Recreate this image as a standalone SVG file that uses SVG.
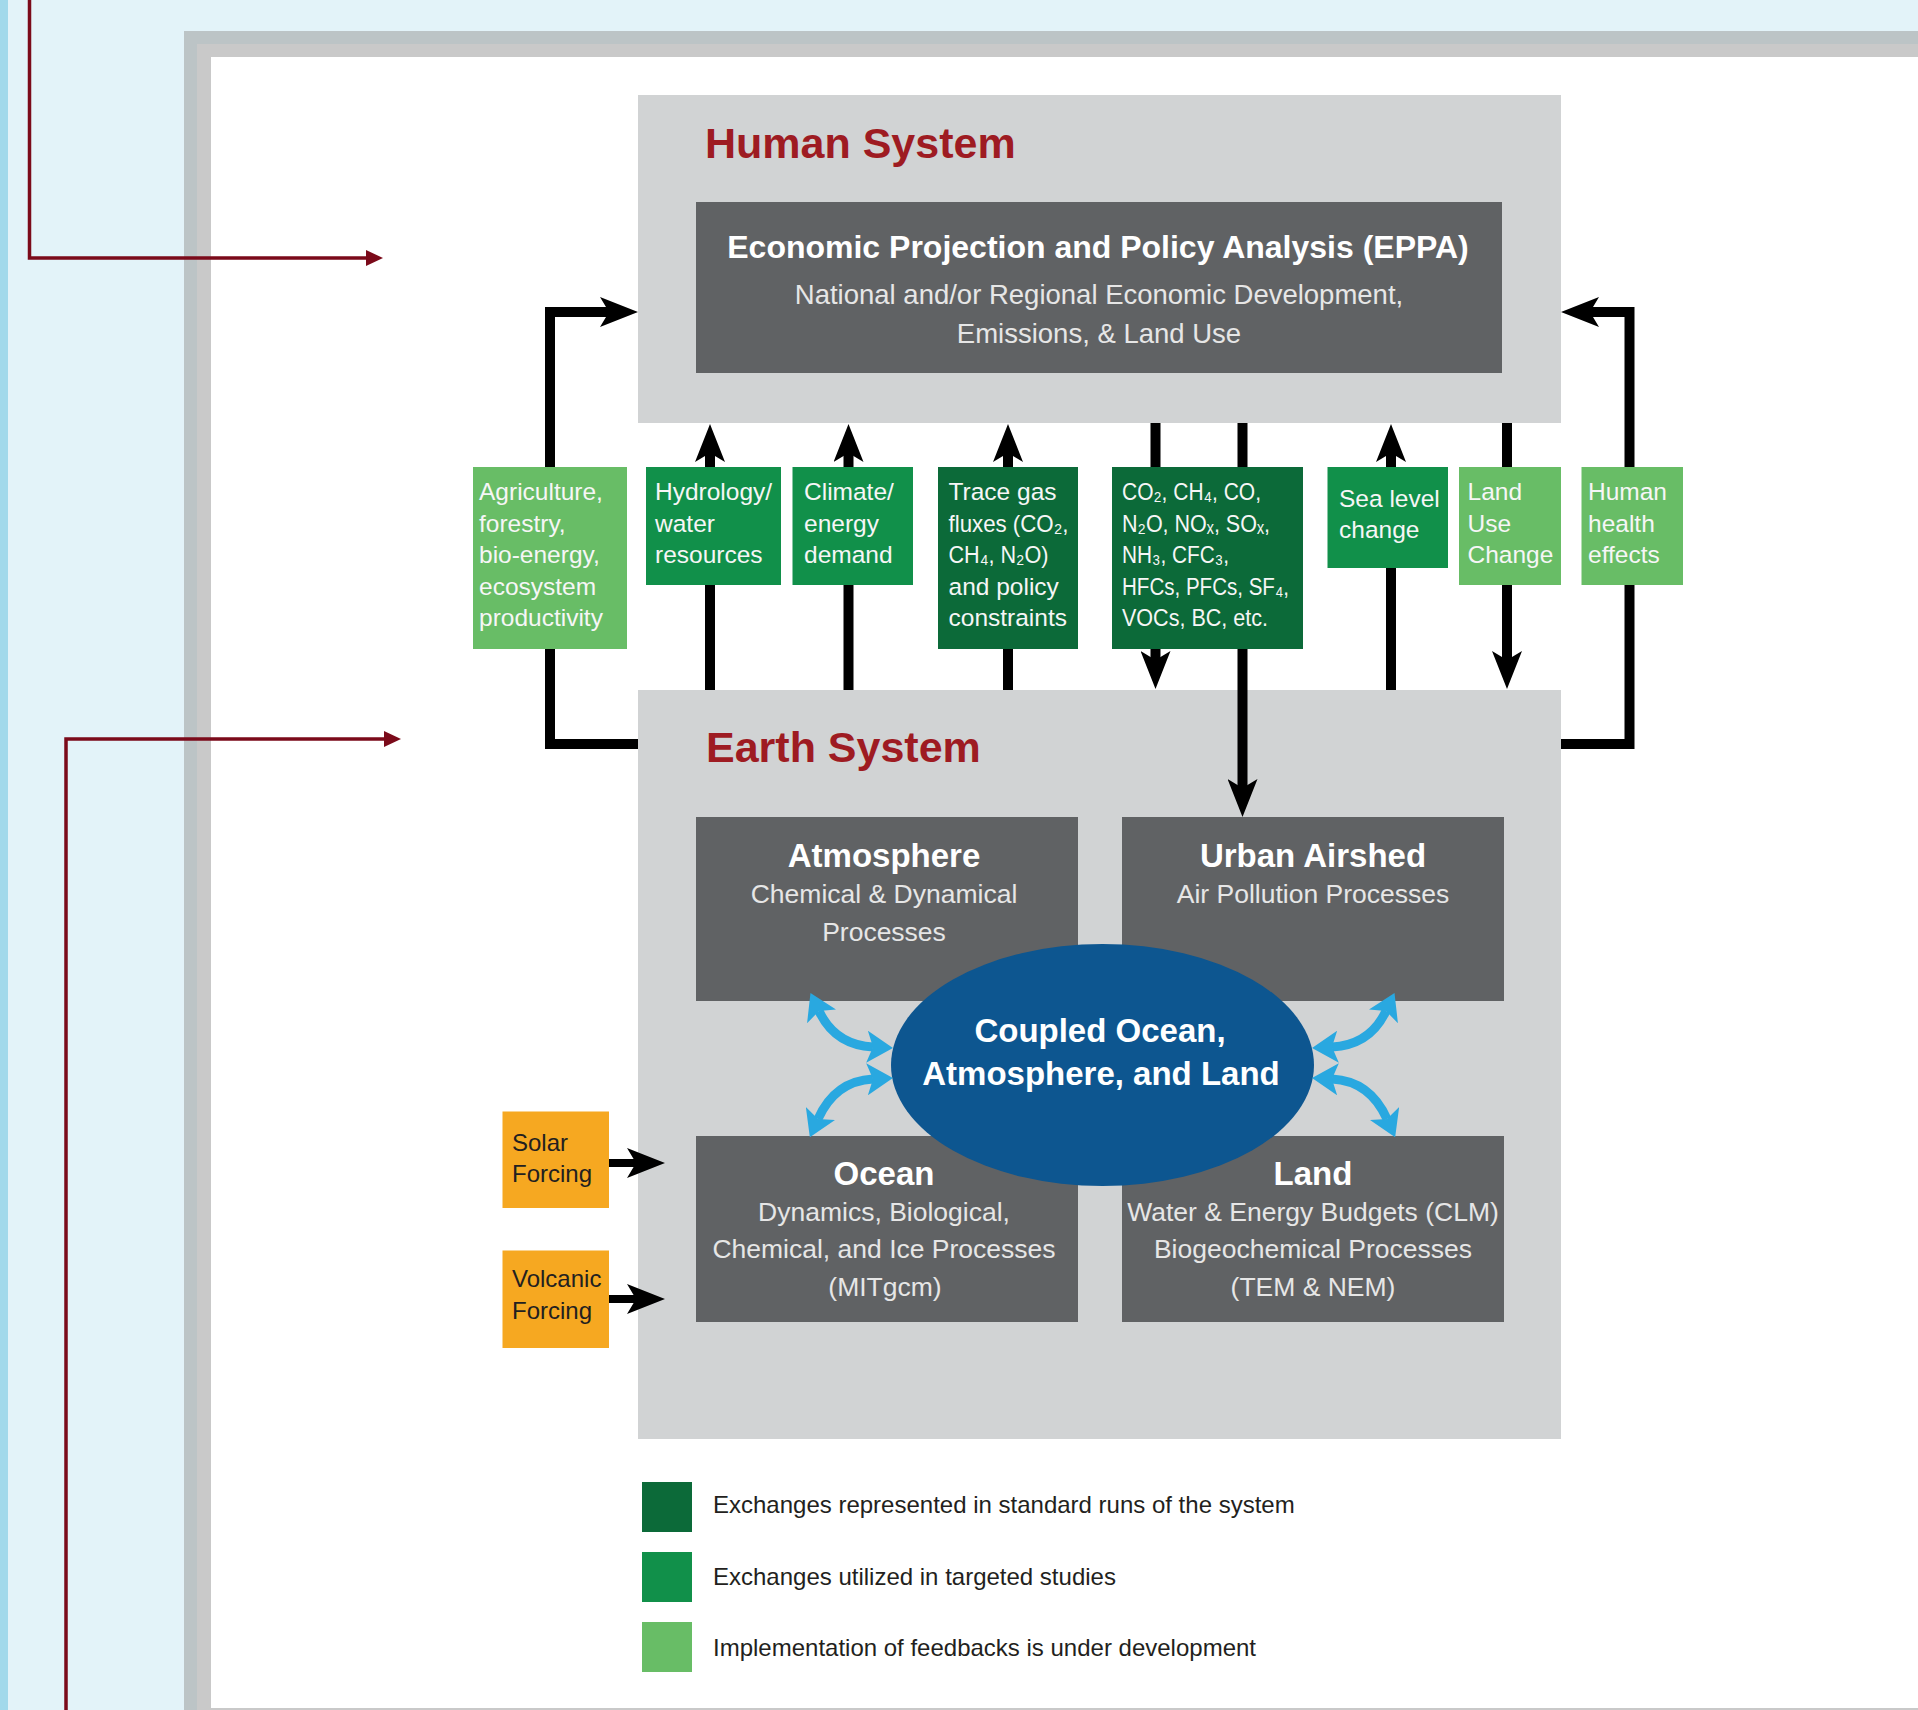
<svg xmlns="http://www.w3.org/2000/svg" width="1918" height="1710" viewBox="0 0 1918 1710">
  <defs>
    <style>
      text { font-family: "Liberation Sans", "DejaVu Sans", Arial, sans-serif; }
      .sys { fill: #d1d3d4; }
      .sysTitle { fill: #9e1b22; font-weight: bold; font-size: 43px; }
      .dark { fill: #606264; }
      .hTitle { fill: #ffffff; font-weight: bold; font-size: 33px; text-anchor: middle; }
      .hSub { fill: #e6e6e6; font-size: 26.5px; text-anchor: middle; }
      .g1 { fill: #0c6a39; }
      .g2 { fill: #11904a; }
      .g3 { fill: #68bd66; }
      .gt { fill: #f6f6f6; font-size: 24.5px; }
      .orange { fill: #f6a821; }
      .ft { fill: #231f20; font-size: 24px; }
      .lg { fill: #231f20; font-size: 24px; }
      .flow { fill: none; stroke: #000000; stroke-width: 10; marker-end: url(#head); }
      .feed { fill: none; stroke: #000000; stroke-width: 10; stroke-linejoin: miter; marker-end: url(#head); }
      .force { fill: none; stroke: #000000; stroke-width: 8; marker-end: url(#head); }
      .couple { fill: none; stroke: #29a8e0; stroke-width: 9; marker-start: url(#bhead); marker-end: url(#bhead); }
      .lead { fill: none; stroke: #7b0a1a; stroke-width: 3.5; marker-end: url(#rhead); }
    </style>
    <marker id="head" viewBox="0 0 38 30" refX="9" refY="15" markerWidth="38" markerHeight="30" markerUnits="userSpaceOnUse" orient="auto">
      <path d="M0,0 L38,15 L0,30 L9,15 Z" fill="#000000"/>
    </marker>
    <marker id="bhead" viewBox="0 0 26 32" refX="6" refY="16" markerWidth="26" markerHeight="32" markerUnits="userSpaceOnUse" orient="auto-start-reverse">
      <path d="M0,0 L26,16 L0,32 L6,16 Z" fill="#29a8e0"/>
    </marker>
    <marker id="rhead" viewBox="0 0 17 16" refX="2" refY="8" markerWidth="17" markerHeight="16" markerUnits="userSpaceOnUse" orient="auto">
      <path d="M0,0 L17,8 L0,16 Z" fill="#7b0a1a"/>
    </marker>
  </defs>

  <!-- page background and frame -->
  <rect x="0" y="0" width="1918" height="1710" fill="#e3f3f9"/>
  <rect x="0" y="0" width="8" height="1710" fill="#a2d9eb"/>
  <rect x="184" y="31" width="1734" height="1679" fill="#bcc4c6"/>
  <rect x="197" y="44" width="1721" height="1666" fill="#c9c9c9"/>
  <rect x="211" y="57" width="1707" height="1651" fill="#ffffff"/>

  <!-- Human System -->
  <g id="human-system">
    <rect class="sys" x="638" y="95" width="923" height="328"/>
    <text class="sysTitle" x="705" y="158">Human System</text>
    <g id="eppa">
      <rect class="dark" x="696" y="202" width="806" height="171"/>
      <text x="1098" y="258" fill="#ffffff" font-weight="bold" font-size="32" text-anchor="middle">Economic Projection and Policy Analysis (EPPA)</text>
      <text x="1099" y="304" fill="#e6e6e6" font-size="27.5" text-anchor="middle">National and/or Regional Economic Development,</text>
      <text x="1099" y="343" fill="#e6e6e6" font-size="27.5" text-anchor="middle">Emissions, &amp; Land Use</text>
    </g>
  </g>

  <!-- Earth System -->
  <g id="earth-system">
    <rect class="sys" x="638" y="690" width="923" height="749"/>
    <text class="sysTitle" x="706" y="762">Earth System</text>
    <g id="atmosphere">
      <rect class="dark" x="696" y="817" width="382" height="184"/>
      <text class="hTitle" x="884" y="867">Atmosphere</text>
      <text class="hSub" x="884" y="903">Chemical &amp; Dynamical</text>
      <text class="hSub" x="884" y="941">Processes</text>
    </g>
    <g id="urban-airshed">
      <rect class="dark" x="1122" y="817" width="382" height="184"/>
      <text class="hTitle" x="1313" y="867">Urban Airshed</text>
      <text class="hSub" x="1313" y="903">Air Pollution Processes</text>
    </g>
    <g id="ocean">
      <rect class="dark" x="696" y="1136" width="382" height="186"/>
    </g>
    <g id="land">
      <rect class="dark" x="1122" y="1136" width="382" height="186"/>
    </g>
    <g id="coupled">
      <ellipse cx="1102.5" cy="1065" rx="211.5" ry="121" fill="#0d5690"/>
      <text class="hTitle" x="1100" y="1042">Coupled Ocean,</text>
      <text class="hTitle" x="1101" y="1085">Atmosphere, and Land</text>
    </g>
    <g id="ocean-text">
      <text class="hTitle" x="884" y="1185">Ocean</text>
      <text class="hSub" x="884" y="1221">Dynamics, Biological,</text>
      <text class="hSub" x="884" y="1258">Chemical, and Ice Processes</text>
      <text class="hSub" x="885" y="1296">(MITgcm)</text>
    </g>
    <g id="land-text">
      <text class="hTitle" x="1313" y="1185">Land</text>
      <text class="hSub" x="1313" y="1221">Water &amp; Energy Budgets (CLM)</text>
      <text class="hSub" x="1313" y="1258">Biogeochemical Processes</text>
      <text class="hSub" x="1313" y="1296">(TEM &amp; NEM)</text>
    </g>
  </g>

  <!-- connectors -->
  <g id="connectors">
    <path class="feed" d="M638,744 H550 V312 H609"/>
    <path class="feed" d="M1561,744 H1629.5 V312 H1590"/>
    <path class="flow" d="M710,690 V453"/>
    <path class="flow" d="M848.5,690 V453"/>
    <path class="flow" d="M1008,690 V453"/>
    <path class="flow" d="M1155.5,423 V660"/>
    <path class="flow" d="M1242.5,423 V788"/>
    <path class="flow" d="M1391,690 V453"/>
    <path class="flow" d="M1507,423 V660"/>
    <path class="force" d="M609,1163 H636"/>
    <path class="force" d="M609,1299 H636"/>
    <path class="couple" d="M819,1011 Q835,1045 873,1047"/>
    <path class="couple" d="M873,1079 Q835,1081 818,1119"/>
    <path class="couple" d="M1386,1011 Q1370,1045 1332,1047"/>
    <path class="couple" d="M1332,1079 Q1370,1081 1387,1119"/>
    <path class="lead" d="M29.5,0 V258 H368"/>
    <path class="lead" d="M66,1710 V739 H386"/>
  </g>

  <!-- exchange boxes -->
  <g id="agriculture">
    <rect class="g3" x="473" y="467" width="154" height="182"/>
    <text class="gt" x="479" y="500">Agriculture,</text>
    <text class="gt" x="479" y="531.5">forestry,</text>
    <text class="gt" x="479" y="563">bio-energy,</text>
    <text class="gt" x="479" y="594.5">ecosystem</text>
    <text class="gt" x="479" y="626">productivity</text>
  </g>
  <g id="hydrology">
    <rect class="g2" x="646" y="467" width="135" height="118"/>
    <text class="gt" x="655" y="500">Hydrology/</text>
    <text class="gt" x="655" y="531.5">water</text>
    <text class="gt" x="655" y="563">resources</text>
  </g>
  <g id="climate">
    <rect class="g2" x="792.5" y="467" width="120.5" height="118"/>
    <text class="gt" x="804" y="500">Climate/</text>
    <text class="gt" x="804" y="531.5">energy</text>
    <text class="gt" x="804" y="563">demand</text>
  </g>
  <g id="trace-gas">
    <rect class="g1" x="938" y="467" width="140" height="182"/>
    <text class="gt" x="948.5" y="500">Trace gas</text>
    <text class="gt" x="948.5" y="531.5" textLength="120" lengthAdjust="spacingAndGlyphs">fluxes (CO₂,</text>
    <text class="gt" x="948.5" y="563" textLength="100" lengthAdjust="spacingAndGlyphs">CH₄, N₂O)</text>
    <text class="gt" x="948.5" y="594.5">and policy</text>
    <text class="gt" x="948.5" y="626">constraints</text>
  </g>
  <g id="emissions">
    <rect class="g1" x="1112" y="467" width="191" height="182"/>
    <text class="gt" x="1122" y="500" textLength="139" lengthAdjust="spacingAndGlyphs">CO₂, CH₄, CO,</text>
    <text class="gt" x="1122" y="531.5" textLength="148" lengthAdjust="spacingAndGlyphs">N₂O, NOₓ, SOₓ,</text>
    <text class="gt" x="1122" y="563" textLength="107" lengthAdjust="spacingAndGlyphs">NH₃, CFC₃,</text>
    <text class="gt" x="1122" y="594.5" textLength="167" lengthAdjust="spacingAndGlyphs">HFCs, PFCs, SF₄,</text>
    <text class="gt" x="1122" y="626" textLength="146" lengthAdjust="spacingAndGlyphs">VOCs, BC, etc.</text>
  </g>
  <g id="sea-level">
    <rect class="g2" x="1327.5" y="467" width="120.5" height="101"/>
    <text class="gt" x="1339" y="507">Sea level</text>
    <text class="gt" x="1339" y="538">change</text>
  </g>
  <g id="land-use">
    <rect class="g3" x="1459" y="467" width="102" height="118"/>
    <text class="gt" x="1467.5" y="500">Land</text>
    <text class="gt" x="1467.5" y="531.5">Use</text>
    <text class="gt" x="1467.5" y="563">Change</text>
  </g>
  <g id="human-health">
    <rect class="g3" x="1581.5" y="467" width="101.5" height="118"/>
    <text class="gt" x="1588" y="500">Human</text>
    <text class="gt" x="1588" y="531.5">health</text>
    <text class="gt" x="1588" y="563">effects</text>
  </g>

  <!-- external forcings -->
  <g id="solar-forcing">
    <rect class="orange" x="502.5" y="1111.5" width="106.5" height="96.5"/>
    <text class="ft" x="512" y="1151">Solar</text>
    <text class="ft" x="512" y="1182">Forcing</text>
  </g>
  <g id="volcanic-forcing">
    <rect class="orange" x="502.5" y="1250.5" width="106.5" height="97.5"/>
    <text class="ft" x="512" y="1287">Volcanic</text>
    <text class="ft" x="512" y="1319">Forcing</text>
  </g>

  <!-- legend -->
  <g id="legend">
    <rect class="g1" x="642" y="1482" width="50" height="50"/>
    <text class="lg" x="713" y="1513">Exchanges represented in standard runs of the system</text>
    <rect class="g2" x="642" y="1552" width="50" height="50"/>
    <text class="lg" x="713" y="1585">Exchanges utilized in targeted studies</text>
    <rect class="g3" x="642" y="1622" width="50" height="50"/>
    <text class="lg" x="713" y="1656">Implementation of feedbacks is under development</text>
  </g>
</svg>
